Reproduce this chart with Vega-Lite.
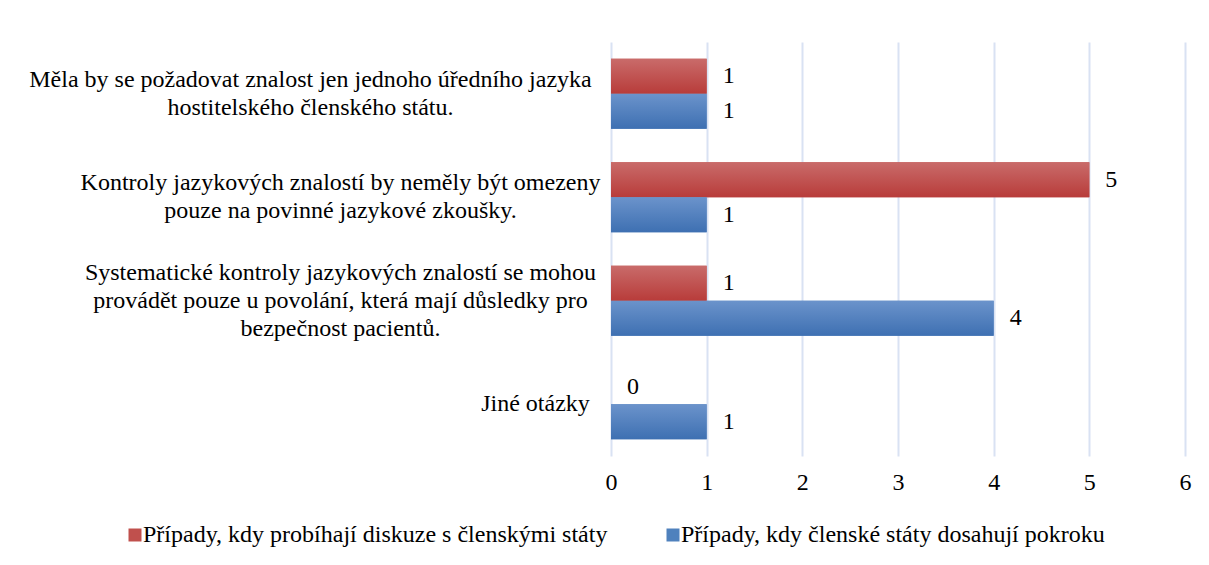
{
  "$schema": "https://vega.github.io/schema/vega-lite/v6.json",
  "width": 574,
  "height": 414,
  "autosize": {"type": "none"},
  "padding": {"left": 611, "top": 42, "right": 24, "bottom": 109},
  "background": "white",
  "config": {"view": {"stroke": null}, "font": "Liberation Serif"},
  "data": {
    "values": [
      {"question": "Měla by se požadovat znalost jen jednoho úředního jazyka|hostitelského členského státu.", "series": "Případy, kdy probíhají diskuze s členskými státy", "value": 1},
      {"question": "Měla by se požadovat znalost jen jednoho úředního jazyka|hostitelského členského státu.", "series": "Případy, kdy členské státy dosahují pokroku", "value": 1},
      {"question": "Kontroly jazykových znalostí by neměly být omezeny|pouze na povinné jazykové zkoušky.", "series": "Případy, kdy probíhají diskuze s členskými státy", "value": 5},
      {"question": "Kontroly jazykových znalostí by neměly být omezeny|pouze na povinné jazykové zkoušky.", "series": "Případy, kdy členské státy dosahují pokroku", "value": 1},
      {"question": "Systematické kontroly jazykových znalostí se mohou|provádět pouze u povolání, která mají důsledky pro|bezpečnost pacientů.", "series": "Případy, kdy probíhají diskuze s členskými státy", "value": 1},
      {"question": "Systematické kontroly jazykových znalostí se mohou|provádět pouze u povolání, která mají důsledky pro|bezpečnost pacientů.", "series": "Případy, kdy členské státy dosahují pokroku", "value": 4},
      {"question": "Jiné otázky", "series": "Případy, kdy probíhají diskuze s členskými státy", "value": 0},
      {"question": "Jiné otázky", "series": "Případy, kdy členské státy dosahují pokroku", "value": 1}
    ]
  },
  "encoding": {
    "y": {
      "field": "question",
      "type": "nominal",
      "sort": null,
      "scale": {"paddingInner": 0.324, "paddingOuter": 0.162},
      "axis": {
        "title": null,
        "domain": false,
        "ticks": false,
        "grid": false,
        "labelAlign": "center",
        "labelBaseline": "middle",
        "labelPadding": {"expr": "21 + 5 * max(length(split(datum.label, '|')[0]), length(split(datum.label, '|')[1] || ''), length(split(datum.label, '|')[2] || ''))"},
        "labelOffset": {"expr": "-14 * (length(split(datum.label, '|')) - 1)"},
        "labelFont": "Liberation Serif",
        "labelFontSize": 24,
        "labelLineHeight": 28,
        "labelColor": "black",
        "labelLimit": 1000,
        "labelExpr": "split(datum.label, '|')"
      }
    },
    "yOffset": {
      "field": "series",
      "type": "nominal",
      "sort": null,
      "scale": {"paddingInner": 0, "paddingOuter": 0}
    },
    "x": {
      "field": "value",
      "type": "quantitative",
      "scale": {"domain": [0, 6], "nice": false},
      "axis": {
        "title": null,
        "domain": false,
        "ticks": false,
        "values": [0, 1, 2, 3, 4, 5, 6],
        "grid": true,
        "gridColor": "#d9e2f3",
        "gridWidth": 2,
        "labelFlush": false,
        "labelFont": "Liberation Serif",
        "labelFontSize": 24,
        "labelColor": "black",
        "labelPadding": 14
      }
    }
  },
  "layer": [
    {
      "mark": {"type": "bar"},
      "encoding": {
        "color": {
          "field": "series",
          "type": "nominal",
          "sort": null,
          "scale": {
            "domain": ["Případy, kdy probíhají diskuze s členskými státy", "Případy, kdy členské státy dosahují pokroku"],
            "range": ["#c0504d", "#4f81bd"]
          },
          "legend": {
            "orient": "none",
            "legendX": -488,
            "legendY": 481,
            "padding": 0,
            "direction": "horizontal",
            "title": null,
            "labelFont": "Liberation Serif",
            "labelFontSize": 24,
            "labelColor": "black",
            "labelLimit": 1000,
            "symbolType": "square",
            "symbolSize": 169,
            "symbolStrokeWidth": 0,
            "columnPadding": 53,
            "labelOffset": -4
          }
        }
      }
    },
    {
      "mark": {"type": "bar"},
      "encoding": {
        "fill": {
          "condition": {
            "test": "datum.series === 'Případy, kdy probíhají diskuze s členskými státy'",
            "value": {"gradient": "linear", "x1": 0, "y1": 0, "x2": 0, "y2": 1, "stops": [{"offset": 0, "color": "#c96b6a"}, {"offset": 1, "color": "#b83c3a"}]}
          },
          "value": {"gradient": "linear", "x1": 0, "y1": 0, "x2": 0, "y2": 1, "stops": [{"offset": 0, "color": "#6b93cb"}, {"offset": 1, "color": "#3e70b2"}]}
        }
      }
    },
    {
      "mark": {"type": "text", "align": "left", "baseline": "middle", "dx": 16, "font": "Liberation Serif", "fontSize": 24, "color": "black"},
      "encoding": {"text": {"field": "value", "type": "quantitative"}}
    }
  ]
}
